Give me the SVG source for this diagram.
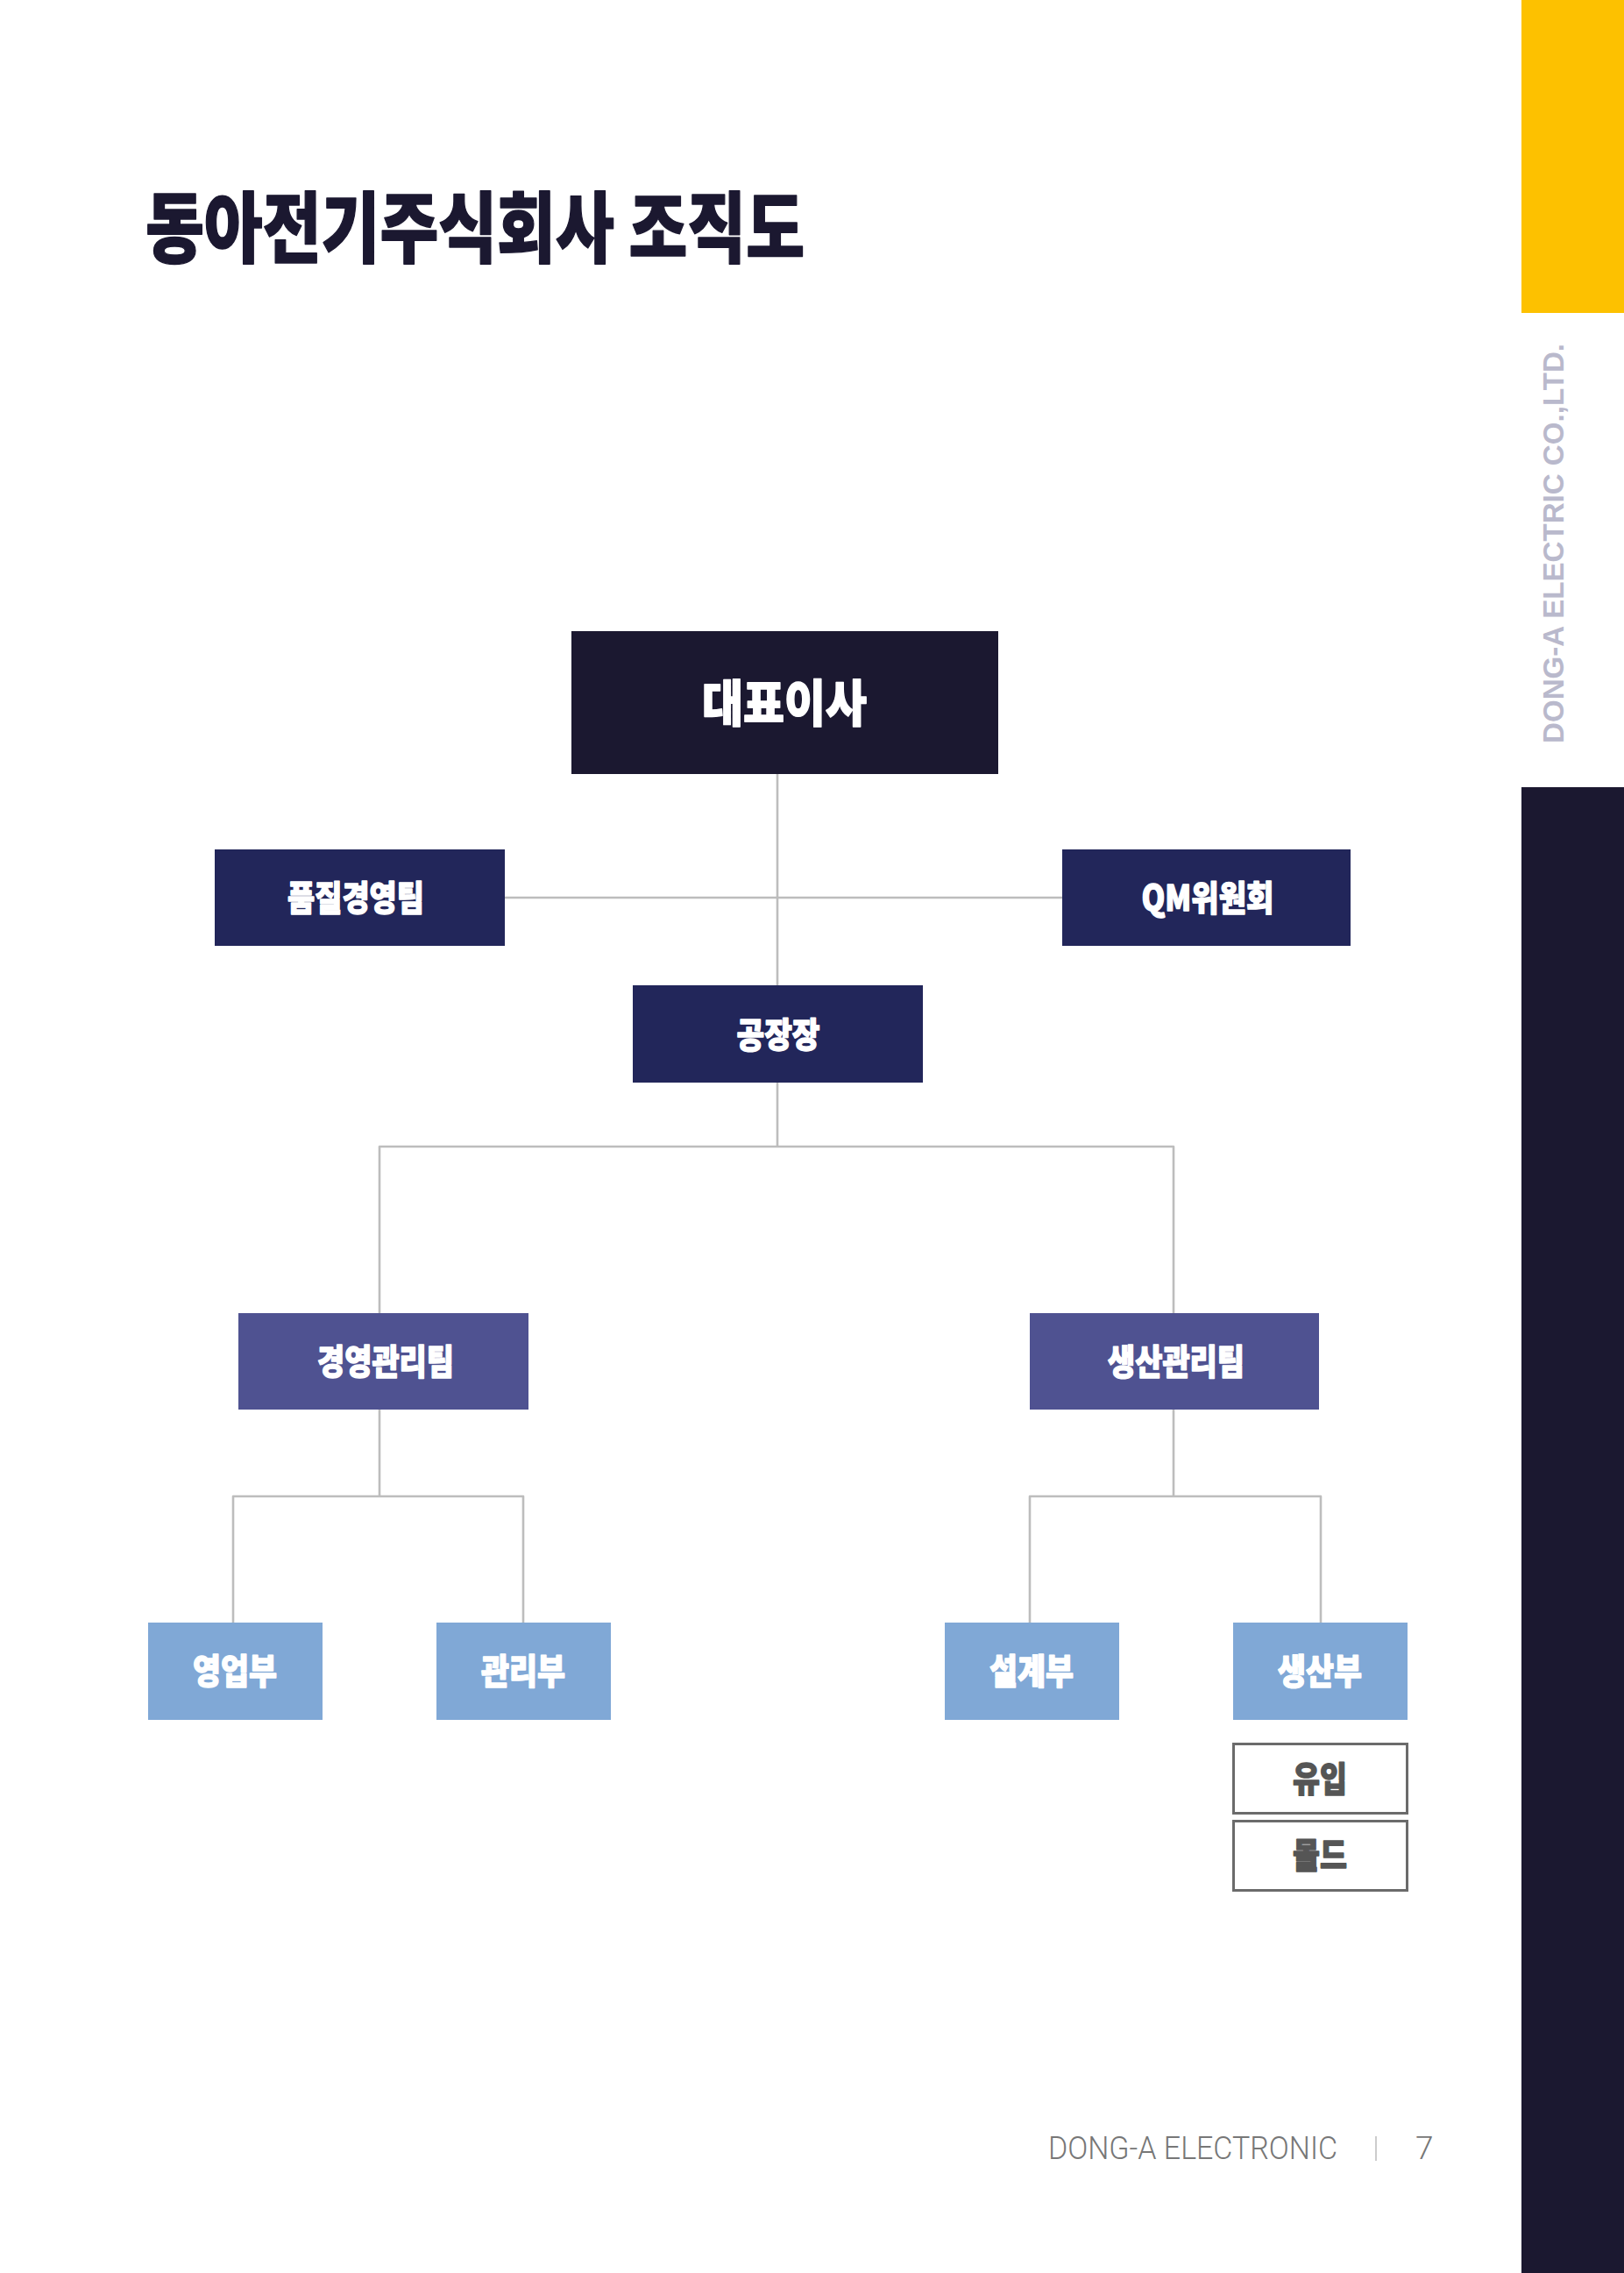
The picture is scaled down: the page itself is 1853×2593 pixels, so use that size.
<svg xmlns="http://www.w3.org/2000/svg" width="1853" height="2593" viewBox="0 0 1853 2593">
<style>
.k{font-family:'Noto Sans CJK KR','Noto Sans CJK SC',sans-serif;font-weight:900;text-anchor:middle;stroke-width:1.4;stroke-linejoin:round}
.w{fill:#ffffff;stroke:#ffffff}
.g{fill:#555555;stroke:#555555}
.c{fill:none;stroke:#bdbdbd;stroke-width:2.6;stroke-linejoin:round}
.n1{fill:#1b1830}
.n2{fill:#22265a}
.n3{fill:#4f5291}
.n4{fill:#80a8d6}
.sub{fill:#ffffff;stroke:#6b6b6b;stroke-width:3}
.t{font-size:40px}
</style>
<rect x="0" y="0" width="1853" height="2593" fill="#ffffff"/>
<g id="sidebar">
<rect x="1736" y="0" width="117" height="357" fill="#fdc100"/>
<rect x="1736" y="898" width="117" height="1695" fill="#1b1830"/>
<text transform="translate(1784,620) rotate(-90)" text-anchor="middle" font-family="'Liberation Sans',Arial,sans-serif" font-weight="700" font-size="34" fill="#b9b9cc" textLength="456" lengthAdjust="spacingAndGlyphs">DONG-A ELECTRIC CO.,LTD.</text>
</g>
<g id="title">
<text x="542" y="292" class="k" font-size="88" fill="#1b1830" stroke="#1b1830" stroke-width="2.5" textLength="752" lengthAdjust="spacingAndGlyphs">동아전기주식회사 조직도</text>
</g>
<g id="connectors">
<path class="c" d="M887 883 V1124"/>
<path class="c" d="M576 1024 H1212"/>
<path class="c" d="M887 1235 V1308"/>
<path class="c" d="M433 1498 V1308 H1339 V1498"/>
<path class="c" d="M433 1608 V1707"/>
<path class="c" d="M266 1851 V1707 H597 V1851"/>
<path class="c" d="M1339 1608 V1707"/>
<path class="c" d="M1175 1851 V1707 H1507 V1851"/>
</g>
<g id="ceo">
<rect class="n1" x="652" y="720" width="487" height="163"/>
<text class="k w" x="895" y="823" font-size="57" stroke-width="2" textLength="188" lengthAdjust="spacingAndGlyphs">대표이사</text>
</g>
<g id="quality">
<rect class="n2" x="245" y="969" width="331" height="110"/>
<text class="k w t" x="406" y="1039" textLength="156" lengthAdjust="spacingAndGlyphs">품질경영팀</text>
</g>
<g id="qm">
<rect class="n2" x="1212" y="969" width="329" height="110"/>
<text class="k w t" x="1378" y="1039" textLength="151" lengthAdjust="spacingAndGlyphs">QM위원회</text>
</g>
<g id="factory">
<rect class="n2" x="722" y="1124" width="331" height="111"/>
<text class="k w t" x="888" y="1195" textLength="95" lengthAdjust="spacingAndGlyphs">공장장</text>
</g>
<g id="mgmt">
<rect class="n3" x="272" y="1498" width="331" height="110"/>
<text class="k w t" x="440" y="1568" textLength="156" lengthAdjust="spacingAndGlyphs">경영관리팀</text>
</g>
<g id="prodmgmt">
<rect class="n3" x="1175" y="1498" width="330" height="110"/>
<text class="k w t" x="1342" y="1568" textLength="156" lengthAdjust="spacingAndGlyphs">생산관리팀</text>
</g>
<g id="sales">
<rect class="n4" x="169" y="1851" width="199" height="111"/>
<text class="k w t" x="268" y="1921" textLength="96" lengthAdjust="spacingAndGlyphs">영업부</text>
</g>
<g id="admin">
<rect class="n4" x="498" y="1851" width="199" height="111"/>
<text class="k w t" x="597" y="1921" textLength="96" lengthAdjust="spacingAndGlyphs">관리부</text>
</g>
<g id="design">
<rect class="n4" x="1078" y="1851" width="199" height="111"/>
<text class="k w t" x="1177" y="1921" textLength="96" lengthAdjust="spacingAndGlyphs">설계부</text>
</g>
<g id="production">
<rect class="n4" x="1407" y="1851" width="199" height="111"/>
<text class="k w t" x="1506" y="1921" textLength="96" lengthAdjust="spacingAndGlyphs">생산부</text>
</g>
<g id="injection">
<rect class="sub" x="1407.5" y="1989.5" width="198" height="79"/>
<text class="k g t" x="1506" y="2044" textLength="62" lengthAdjust="spacingAndGlyphs">유입</text>
</g>
<g id="mold">
<rect class="sub" x="1407.5" y="2077.5" width="198" height="79"/>
<text class="k g t" x="1506" y="2131" textLength="62" lengthAdjust="spacingAndGlyphs">몰드</text>
</g>
<g id="footer">
<text x="1196" y="2463" font-family="Roboto,'Liberation Sans',sans-serif" font-weight="300" font-size="37" fill="#777777" textLength="330" lengthAdjust="spacingAndGlyphs">DONG-A ELECTRONIC</text>
<line x1="1570" y1="2437" x2="1570" y2="2465" stroke="#cccccc" stroke-width="2"/>
<text x="1615" y="2463" font-family="Roboto,'Liberation Sans',sans-serif" font-weight="300" font-size="37" fill="#777777">7</text>
</g>
</svg>
